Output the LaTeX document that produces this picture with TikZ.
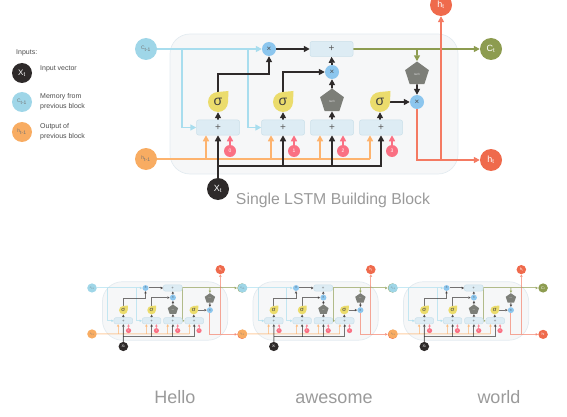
\documentclass[tikz,border=0pt]{standalone}
\usepackage{fontspec}
\setmainfont{Liberation Sans}
\usetikzlibrary{arrows.meta,shapes.geometric,backgrounds,calc}
\definecolor{cblue}{HTML}{9FD6E8}
\definecolor{lblue}{HTML}{A8DDEE}
\definecolor{cmul}{HTML}{8CC6EE}
\definecolor{corange}{HTML}{F8AC62}
\definecolor{lorange}{HTML}{FDB36E}
\definecolor{cblack}{HTML}{2E2A2A}
\definecolor{cpink}{HTML}{FA7083}
\definecolor{cred}{HTML}{EF6A4C}
\definecolor{lred}{HTML}{F47A62}
\definecolor{colive}{HTML}{8D9C50}
\definecolor{boxfill}{HTML}{DDECF4}
\definecolor{boxline}{HTML}{CBE0EA}
\definecolor{panelfill}{HTML}{F6F7F8}
\definecolor{panelline}{HTML}{E3EBF0}
\definecolor{cyellow}{HTML}{EBDC6C}
\definecolor{cgray}{HTML}{7C7E78}
\definecolor{tgray}{HTML}{9A9A9A}
\tikzset{
  round/.style={circle,inner sep=0pt,minimum size=22pt,font=\fontsize{5}{5}\selectfont},
  mulnode/.style={circle,fill=cmul,inner sep=0pt,minimum size=14pt,font=\fontsize{8}{8}\selectfont,text=black!70},
  sumbox/.style={rectangle,rounded corners=2pt,fill=boxfill,draw=boxline,line width=.5pt,inner sep=0pt,minimum width=43pt,minimum height=15pt,font=\fontsize{10}{10}\selectfont,text=black!65},
  sigmanode/.style={circle,fill=cyellow,inner sep=0pt,minimum size=20pt,font=\fontsize{14}{14}\selectfont,text=black!75},
  tanhnode/.style={regular polygon,regular polygon sides=5,fill=cgray,inner sep=0pt,minimum size=25pt,font=\fontsize{3}{3}\selectfont,text=white!70!gray},
  pinknode/.style={circle,fill=cpink,inner sep=0pt,minimum size=12pt,font=\fontsize{5}{5}\selectfont,text=white},
  legendtext/.style={anchor=west,align=left,inner sep=0pt,font=\fontsize{7}{10}\selectfont,text=black!70},
  biglabel/.style={inner sep=0pt,anchor=base,text=tgray,font=\fontsize{18}{18}\selectfont}
}
% #1 prefix, #2 line width, #3 thin line width, #4 arrow length, #5 arrow width, #6 olive branch (0/1), #7 wire opacity
\newcommand{\lstmcell}[7]{%
  \tikzset{wa/.style={line width=#2,opacity=#7,-{Triangle[length=#4,width=#5]}},wb/.style={line width=#2,opacity=#7},
           wc/.style={line width=#3,opacity=#7,-{Triangle[length=#4,width=#5]}}}
  \node[round,fill=cblue,text=black!55] (#1c0) at (146,49) {C\textsubscript{t-1}};
  \node[round,fill=corange,text=black!55] (#1h0) at (146,159) {h\textsubscript{t-1}};
  \node[round,fill=cblack,text=white,font=\fontsize{9}{9}\selectfont] (#1x) at (218,189) {X\textsubscript{t}};
  \node[round,fill=colive,text=white,font=\fontsize{9}{9}\selectfont] (#1c1) at (491,49) {C\textsubscript{t}};
  \node[round,fill=cred,text=white,font=\fontsize{9}{9}\selectfont] (#1h1) at (491,160) {h\textsubscript{t}};
  \node[round,fill=cred,text=white,font=\fontsize{9}{9}\selectfont] (#1h2) at (441,5) {h\textsubscript{t}};
  \node[mulnode] (#1m1) at (269,49) {×};
  \node[mulnode] (#1m2) at (332,72) {×};
  \node[mulnode] (#1m3) at (417,102) {×};
  \node[sumbox] (#1top) at (331.5,49) {+};
  \node[sumbox] (#1b1) at (218,127.5) {+};
  \node[sumbox] (#1b2) at (283,127.5) {+};
  \node[sumbox] (#1b3) at (332,127.5) {+};
  \node[sumbox] (#1b4) at (381,127.5) {+};
  \foreach \n/\x in {s1/218,s2/283,s3/380}{%
    \fill[cyellow] (\x,92) -- (\x+10.5,91) -- (\x+10,102) -- (\x,102) -- cycle;
    \node[sigmanode] (#1\n) at (\x,102) {σ};
  }
  \node[tanhnode] (#1t1) at (332,101) {tanh};
  \node[tanhnode] (#1t2) at (417,74) {tanh};
  \node[pinknode] (#1p1) at (230,151) {0};
  \node[pinknode] (#1p2) at (294,151) {1};
  \node[pinknode] (#1p3) at (343,151) {2};
  \node[pinknode] (#1p4) at (392,151) {3};
  \coordinate (#1bj1) at (182,49);
  \coordinate (#1bj2) at (248,49);
  \coordinate (#1oj1) at (206,159);
  \coordinate (#1oj2) at (271,159);
  \coordinate (#1oj3) at (320,159);
  \coordinate (#1oj4) at (370,159);
  \coordinate (#1kj) at (218,166);
  \coordinate (#1kj2) at (283,166);
  \coordinate (#1kj3) at (332,166);
  \coordinate (#1j1) at (218,74);
  \coordinate (#1gj) at (417,49);
  \coordinate (#1gk) at (355,49);
  \coordinate (#1rj) at (441,160);
  \begin{scope}[on background layer]
    \node[rectangle,rounded corners=20pt,fill=panelfill,draw=panelline,line width=.7pt,inner sep=0pt,minimum width=288pt,minimum height=140pt] (#1panel) at (314,104) {};
    % blue
    \draw[wa,lblue] (#1c0) -- (#1m1.west);
    \draw[wa,lblue] (#1bj1) |- (#1b1.west);
    \draw[wa,lblue] (#1bj2) |- (#1b2.west);
    % orange
    \draw[wb,lorange] (#1h0) -- (#1oj4);
    \draw[wa,lorange] (#1oj1) -- (#1oj1 |- #1b1.south);
    \draw[wa,lorange] (#1oj2) -- (#1oj2 |- #1b2.south);
    \draw[wa,lorange] (#1oj3) -- (#1oj3 |- #1b3.south);
    \draw[wa,lorange] (#1oj4) -- (#1oj4 |- #1b4.south);
    % black
    \draw[wc,cblack] (#1x) -- (#1b1.south);
    \draw[wc,cblack] (#1kj) -| (#1b4.south);
    \draw[wc,cblack] (#1kj2) -- (#1b2.south);
    \draw[wc,cblack] (#1kj3) -- (#1b3.south);
    \draw[wc,cblack] (#1s1.north) -- (#1j1) -| (#1m1.south);
    \draw[wc,cblack] (#1s2.north) |- (#1m2.west);
    \draw[wc,cblack] (#1m1) -- (#1top.west);
    \draw[wc,cblack] (#1b1.north) -- (#1s1.south);
    \draw[wc,cblack] (#1b2.north) -- (#1s2.south);
    \draw[wc,cblack] (#1b3.north) -- (#1t1.south);
    \draw[wc,cblack] (#1b4.north -| #1s3) -- (#1s3.south);
    \draw[wc,cblack] (#1t1.north) -- (#1m2.south);
    \draw[wc,cblack] (#1m2.north) -- (#1top.south);
    \draw[wc,cblack] (#1t2.south) -- (#1m3.north);
    \draw[wc,cblack] (#1s3.east) -- (#1m3.west);
    % pink
    \draw[wc,cpink] (#1p1.north) -- (#1p1.north |- #1b1.south);
    \draw[wc,cpink] (#1p2.north) -- (#1p2.north |- #1b2.south);
    \draw[wc,cpink] (#1p3.north) -- (#1p3.north |- #1b3.south);
    \draw[wc,cpink] (#1p4.north) -- (#1p4.north |- #1b4.south);
    % olive
    \draw[wa,colive] (#1top.east) -- (#1c1.west);
    \draw[wa,colive] (#1gj) -- (#1t2.north);
    \ifnum#6=1 \draw[wa,colive] (#1gk) |- (#1b4.west); \fi
    % red
    \draw[wa,lred] (#1m3.south) |- (#1h1.west);
    \draw[wa,lred] (#1rj) -- (#1h2.south);
  \end{scope}
}
\begin{document}
\begin{tikzpicture}[x=1pt,y=-1pt]
\useasboundingbox (0,0) rectangle (567,417);
\lstmcell{m}{1.9pt}{1.7pt}{6pt}{6pt}{0}{1}
\begin{scope}[shift={(28.5,267.5)},xscale=.435,yscale=.418,transform shape]
\lstmcell{a}{1pt}{1pt}{2.5pt}{2.5pt}{1}{.65}
\end{scope}
\begin{scope}[shift={(179,267.5)},xscale=.435,yscale=.418,transform shape]
\lstmcell{b}{1pt}{1pt}{2.5pt}{2.5pt}{1}{.65}
\end{scope}
\begin{scope}[shift={(329.5,267.5)},xscale=.435,yscale=.418,transform shape]
\lstmcell{c}{1pt}{1pt}{2.5pt}{2.5pt}{1}{.65}
\end{scope}
% legend
\node[legendtext,anchor=west] (l0) at (16,53) {Inputs:};
\node[round,fill=cblack,text=white,minimum size=20pt,font=\fontsize{8}{8}\selectfont] (lx) at (22,73) {X\textsubscript{t}};
\node[round,fill=cblue,text=black!55,minimum size=20pt] (lc) at (22,102) {C\textsubscript{t-1}};
\node[round,fill=corange,text=black!55,minimum size=20pt] (lh) at (22,132) {h\textsubscript{t-1}};
\node[legendtext] (l1) at (40,69) {Input vector};
\node[legendtext] (l2) at (40,102) {Memory from\\previous block};
\node[legendtext] (l3) at (40,131.5) {Output of\\previous block};
% labels
\node[biglabel,font=\fontsize{15.8}{15.8}\selectfont] (title) at (333,204) {Single LSTM Building Block};
\node[biglabel] (w1) at (175,403) {Hello};
\node[biglabel] (w2) at (334,403) {awesome};
\node[biglabel] (w3) at (499,403) {world};
\end{tikzpicture}
\end{document}
